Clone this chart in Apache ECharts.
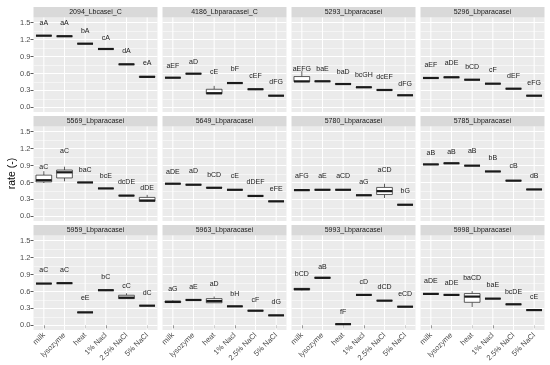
<!DOCTYPE html>
<html>
<head>
<meta charset="utf-8">
<script src="https://cdn.jsdelivr.net/npm/echarts@6/dist/echarts.min.js"></script>
<style>html,body{margin:0;padding:0;background:#fff;}#c{width:550px;height:365px;}</style>
</head>
<body>
<div id="c"></div>
<script>
// ---------- data ----------
const categories = ['milk', 'lysozyme', 'heat', '1% Nacl', '2.5% NaCl', '5% NaCl'];
const panelNames = ['2094_Lbcasei_C', '4186_Lbparacasei_C', '5293_Lbparacasei', '5296_Lbparacasei',
                    '5569_Lbparacasei', '5649_Lbparacasei', '5780_Lbparacasei', '5785_Lbparacasei',
                    '5959_Lbparacasei', '5963_Lbparacasei', '5993_Lbparacasei', '5998_Lbparacasei'];
const yTicks = [0, 0.3, 0.6, 0.9, 1.2, 1.5];

// box stats: [min, q1, median, q3, max] per category
const box2094 = [[1.27,1.27,1.27,1.27,1.27],[1.26,1.26,1.26,1.26,1.26],[1.128,1.128,1.128,1.128,1.128],[1.034,1.034,1.034,1.034,1.034],[0.762,0.762,0.762,0.762,0.762],[0.53,0.533,0.54,0.548,0.55]];
const box4186 = [[0.525,0.525,0.525,0.525,0.525],[0.596,0.596,0.596,0.596,0.596],[0.235,0.24,0.25,0.32,0.38],[0.43,0.43,0.43,0.43,0.43],[0.32,0.32,0.32,0.32,0.32],[0.206,0.206,0.206,0.206,0.206]];
const box5293 = [[0.45,0.455,0.46,0.545,0.64],[0.461,0.461,0.461,0.461,0.461],[0.405,0.41,0.413,0.418,0.42],[0.35,0.352,0.355,0.36,0.362],[0.307,0.307,0.307,0.307,0.307],[0.213,0.213,0.213,0.213,0.213]];
const box5296 = [[0.52,0.52,0.52,0.52,0.52],[0.532,0.532,0.532,0.532,0.532],[0.489,0.489,0.489,0.489,0.489],[0.419,0.419,0.419,0.419,0.419],[0.33,0.33,0.33,0.33,0.33],[0.206,0.206,0.206,0.206,0.206]];
const box5569 = [[0.59,0.61,0.64,0.73,0.80],[0.62,0.68,0.78,0.82,0.88],[0.60,0.60,0.60,0.60,0.60],[0.494,0.494,0.494,0.494,0.494],[0.367,0.367,0.367,0.367,0.367],[0.255,0.265,0.28,0.335,0.38]];
const box5649 = [[0.578,0.578,0.578,0.578,0.578],[0.56,0.56,0.56,0.56,0.56],[0.50,0.502,0.506,0.51,0.512],[0.47,0.47,0.47,0.47,0.47],[0.361,0.361,0.361,0.361,0.361],[0.265,0.265,0.265,0.265,0.265]];
const box5780 = [[0.464,0.464,0.464,0.464,0.464],[0.47,0.47,0.47,0.47,0.47],[0.47,0.47,0.47,0.47,0.47],[0.373,0.373,0.373,0.373,0.373],[0.325,0.386,0.446,0.512,0.578],[0.205,0.205,0.205,0.205,0.205]];
const box5785 = [[0.92,0.92,0.92,0.92,0.92],[0.94,0.94,0.94,0.94,0.94],[0.898,0.898,0.898,0.898,0.898],[0.795,0.795,0.795,0.795,0.795],[0.632,0.632,0.632,0.632,0.632],[0.476,0.476,0.476,0.476,0.476]];
const box5959 = [[0.74,0.74,0.74,0.74,0.74],[0.747,0.747,0.747,0.747,0.747],[0.229,0.229,0.229,0.229,0.229],[0.622,0.622,0.622,0.622,0.622],[0.47,0.473,0.49,0.533,0.568],[0.348,0.348,0.348,0.348,0.348]];
const box5963 = [[0.40,0.405,0.414,0.43,0.44],[0.449,0.449,0.449,0.449,0.449],[0.40,0.40,0.43,0.473,0.51],[0.336,0.336,0.336,0.336,0.336],[0.259,0.259,0.259,0.259,0.259],[0.176,0.176,0.176,0.176,0.176]];
const box5993 = [[0.62,0.63,0.64,0.655,0.66],[0.83,0.835,0.842,0.85,0.855],[0.02,0.02,0.02,0.02,0.02],[0.539,0.539,0.539,0.539,0.539],[0.437,0.437,0.437,0.437,0.437],[0.33,0.33,0.33,0.33,0.33]];
const box5998 = [[0.557,0.557,0.557,0.557,0.557],[0.539,0.539,0.539,0.539,0.539],[0.324,0.408,0.509,0.5625,0.604],[0.473,0.473,0.473,0.473,0.473],[0.372,0.372,0.372,0.372,0.372],[0.27,0.27,0.27,0.27,0.27]];

// letter labels and their heights
const lab2094 = ['aA','aA','bA','cA','dA','eA'];           const labY2094 = [1.50,1.50,1.35,1.235,1.00,0.79];
const lab4186 = ['aEF','aD','cE','bF','cEF','dFG'];        const labY4186 = [0.74,0.81,0.63,0.67,0.555,0.455];
const lab5293 = ['aEFG','baE','baD','bcGH','dcEF','dFG'];  const labY5293 = [0.675,0.685,0.63,0.575,0.53,0.415];
const lab5296 = ['aEF','aDE','bCD','cF','dEF','eFG'];      const labY5296 = [0.745,0.79,0.71,0.655,0.56,0.43];
const lab5569 = ['aC','aC','baC','bcE','dcDE','dDE'];      const labY5569 = [0.88,1.15,0.82,0.72,0.615,0.50];
const lab5649 = ['aDE','aD','bCD','cE','dDEF','eFE'];      const labY5649 = [0.79,0.80,0.735,0.72,0.60,0.49];
const lab5780 = ['aFG','aE','aCD','aG','aCD','bG'];        const labY5780 = [0.705,0.705,0.705,0.608,0.82,0.452];
const lab5785 = ['aB','aB','aB','bB','cB','dB'];           const labY5785 = [1.13,1.145,1.15,1.036,0.89,0.71];
const lab5959 = ['aC','aC','eE','bC','cC','dC'];           const labY5959 = [0.98,0.98,0.48,0.848,0.70,0.574];
const lab5963 = ['aG','aE','aD','bH','cF','dG'];           const labY5963 = [0.634,0.676,0.74,0.545,0.455,0.408];
const lab5993 = ['bCD','aB','fF','cD','dCD','eCD'];        const labY5993 = [0.90,1.04,0.235,0.76,0.67,0.56];
const lab5998 = ['aDE','aDE','baCD','baE','bcDE','cE'];    const labY5998 = [0.78,0.75,0.836,0.717,0.592,0.503];

const boxes = [box2094, box4186, box5293, box5296, box5569, box5649, box5780, box5785, box5959, box5963, box5993, box5998];
const letters = [lab2094, lab4186, lab5293, lab5296, lab5569, lab5649, lab5780, lab5785, lab5959, lab5963, lab5993, lab5998];
const letterY = [labY2094, labY4186, labY5293, labY5296, labY5569, labY5649, labY5780, labY5785, labY5959, labY5963, labY5993, labY5998];

// ---------- layout / style ----------
const FONT = '"Liberation Sans", Arial, sans-serif';
const LEFT0 = 33.5, COLSTEP = 129, PW = 124;
const TOP0 = 17.5, ROWSTEP = 109, PH = 94.5, STRIP = 10.5;
const PAD_TOP = 5.2, GH = 84.6;
const Y_LO = -0.083, Y_HI = 1.592; // panel extent in data units (ggplot expansion)

const chart = echarts.init(document.getElementById('c'), null, {renderer: 'canvas'});

const grids = [], xAxes = [], yAxes = [], series = [], graphics = [];

function boxRenderer(params, api) {
  const i = api.value(0);
  const mn = api.value(1), q1 = api.value(2), md = api.value(3), q3 = api.value(4), mx = api.value(5);
  const bw = api.size([1, 0])[0] * 0.76;
  const x = api.coord([i, md])[0];
  const yTop = api.coord([i, Y_HI])[1], yBot = api.coord([i, Y_LO])[1];
  const pMn = api.coord([i, mn])[1], pQ1 = api.coord([i, q1])[1], pMd = api.coord([i, md])[1];
  const pQ3 = api.coord([i, q3])[1], pMx = api.coord([i, mx])[1];
  const stroke = '#333333';
  return {
    type: 'group',
    children: [
      {type: 'line', shape: {x1: x, y1: yTop, x2: x, y2: yBot}, style: {stroke: '#ffffff', lineWidth: 1.07}},
      {type: 'line', shape: {x1: x, y1: pQ3, x2: x, y2: pMx}, style: {stroke: stroke, lineWidth: 0.8}},
      {type: 'line', shape: {x1: x, y1: pQ1, x2: x, y2: pMn}, style: {stroke: stroke, lineWidth: 0.8}},
      {type: 'rect', shape: {x: x - bw / 2, y: pQ3, width: bw, height: pQ1 - pQ3},
        style: {fill: '#ffffff', stroke: stroke, lineWidth: 0.8}},
      {type: 'line', shape: {x1: x - bw / 2, y1: pMd, x2: x + bw / 2, y2: pMd},
        style: {stroke: '#1a1a1a', lineWidth: 2.2}}
    ]
  };
}

for (let p = 0; p < 12; p++) {
  const r = Math.floor(p / 4), c = p % 4;
  const left = LEFT0 + c * COLSTEP;
  const ptop = TOP0 + r * ROWSTEP;
  const isBottom = r === 2, isLeft = c === 0;

  graphics.push({type: 'rect', z: -10, silent: true,
    shape: {x: left, y: ptop, width: PW, height: PH}, style: {fill: '#EBEBEB'}});
  graphics.push({type: 'rect', z: -10, silent: true,
    shape: {x: left, y: ptop - STRIP, width: PW, height: STRIP}, style: {fill: '#D9D9D9'}});
  graphics.push({type: 'text', z: 10, silent: true, x: left + PW / 2, y: ptop - STRIP / 2 + 0.3,
    style: {text: panelNames[p], fontSize: 7, fontFamily: FONT, fill: '#1A1A1A', align: 'center', verticalAlign: 'middle'}});

  grids.push({left: left, top: ptop + PAD_TOP, width: PW, height: GH, containLabel: false});

  xAxes.push({
    type: 'category', gridIndex: p, data: categories, offset: PH - PAD_TOP - GH,
    axisLine: {show: false},
    axisTick: {show: isBottom, alignWithLabel: true, length: 3, lineStyle: {color: '#333333', width: 0.8}},
    axisLabel: {show: isBottom, rotate: 45, fontSize: 7.5, fontFamily: FONT, color: '#4D4D4D', margin: 4, interval: 0},
    splitLine: {show: false}
  });
  yAxes.push({
    type: 'value', gridIndex: p, min: 0, max: 1.5, interval: 0.3,
    axisLine: {show: false},
    axisTick: {show: isLeft, length: 3, lineStyle: {color: '#333333', width: 0.8}},
    axisLabel: {show: isLeft, fontSize: 7.5, fontFamily: FONT, color: '#4D4D4D', margin: 3,
      formatter: v => v.toFixed(1)},
    splitLine: {show: true, lineStyle: {color: '#ffffff', width: 1.07}},
    minorTick: {show: false, splitNumber: 2},
    minorSplitLine: {show: true, lineStyle: {color: '#ffffff', width: 0.53}}
  });

  series.push({
    type: 'custom', xAxisIndex: p, yAxisIndex: p, z: 2, clip: false, silent: true,
    renderItem: boxRenderer,
    encode: {x: 0, y: [1, 2, 3, 4, 5]},
    data: boxes[p].map((b, i) => [i, b[0], b[1], b[2], b[3], b[4]])
  });

  const labs = letters[p];
  series.push({
    type: 'custom', xAxisIndex: p, yAxisIndex: p, z: 5, clip: false, silent: true,
    renderItem: function (params, api) {
      const pt = api.coord([api.value(0), api.value(1)]);
      return {type: 'text', x: pt[0], y: pt[1],
        style: {text: labs[params.dataIndex], fontSize: 7, fontFamily: FONT, fill: '#1A1A1A',
          align: 'center', verticalAlign: 'middle'}};
    },
    encode: {x: 0, y: 1},
    data: letterY[p].map((v, i) => [i, v])
  });
}

graphics.push({type: 'text', silent: true, x: 12, y: 173.5, rotation: Math.PI / 2,
  style: {text: 'rate (-)', fontSize: 10.5, fontFamily: FONT, fill: '#000000', align: 'center', verticalAlign: 'middle'}});

chart.setOption({
  backgroundColor: '#ffffff',
  animation: false,
  grid: grids,
  xAxis: xAxes,
  yAxis: yAxes,
  series: series,
  graphic: {elements: graphics}
});
</script>
</body>
</html>
